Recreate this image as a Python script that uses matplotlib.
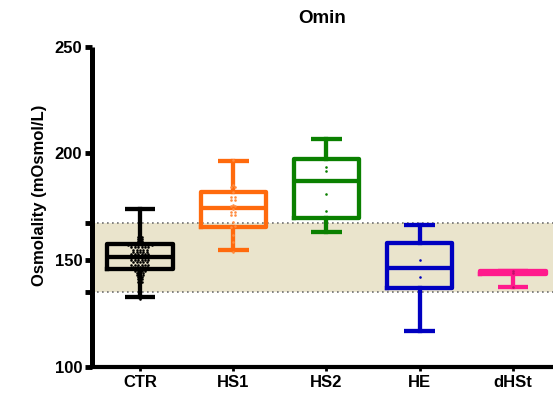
import matplotlib
matplotlib.use("Agg")
import matplotlib.pyplot as plt
import numpy as np

plt.rcParams['font.family'] = ['Liberation Sans', 'DejaVu Sans']

categories = ["CTR", "HS1", "HS2", "HE", "dHSt"]
colors = ["#000000", "#FF6A0D", "#0A8000", "#0000C0", "#FF1A8C"]
dot_colors = ["#000000", "#FF8C40", "#0A8000", "#0000C0", "#C0106A"]

# box statistics: (whislo, q1, median, q3, whishi)
box_lo = [133, 155, 163, 117, 137.5]
box_q1 = [146, 165.7, 170, 137, 143.5]
box_med = [151.5, 174.3, 187, 146.5, 144]
box_q3 = [157.5, 182, 197.5, 158, 144.8]
box_hi = [174, 196.6, 207, 166.5, 145]

# individual points
ctr_pts = [132, 134, 136, 137, 138, 139, 140, 140, 141, 141, 142, 142, 143, 143, 143,
           144, 144, 144, 145, 145, 145, 145, 146, 146, 146, 146, 146, 146, 146, 147,
           147, 147, 147, 147, 148, 148, 148, 148, 148, 148, 149, 149, 149, 149, 149,
           150, 150, 150, 150, 150, 150, 151, 151, 151, 151, 151, 151, 152, 152, 152,
           152, 152, 152, 152, 153, 153, 153, 153, 153, 153, 154, 154, 154, 154, 154,
           155, 155, 155, 155, 155, 156, 156, 156, 156, 156, 156, 157, 157, 157, 157,
           157, 157, 157, 157, 158, 158, 158, 159, 159, 160, 160, 161, 161, 162, 163,
           164, 165, 166, 167, 168, 170, 172, 174]
hs1_pts = [154, 158.7, 162, 165.7, 166, 168, 171.2, 171.2, 172.4, 172.4, 174, 175.4,
           175.4, 176, 178.2, 178.2, 179.8, 179.8, 182, 184.4, 184.4, 185, 197]
hs2_pts = [163, 173.2, 181, 191.8, 193.8, 207]
he_pts = [117, 142.3, 150.1, 166.5]
dhst_pts = [137.5, 144, 145]
points = [ctr_pts, hs1_pts, hs2_pts, he_pts, dhst_pts]

band_lo, band_hi = 135.3, 167.6

W, H = 553, 394
fig = plt.figure(figsize=(W / 100, H / 100), dpi=100)
ax_left, ax_bottom = 92 / W, 1 - 367 / H
ax_w, ax_h = 1 - ax_left, (367 - 46.7) / H
ax = fig.add_axes([ax_left, ax_bottom, ax_w, ax_h])

xmin, xmax = 0.486, 5.43
ymin, ymax = 100, 250
ax.set_xlim(xmin, xmax)
ax.set_ylim(ymin, ymax)

# normal band
ax.axhspan(band_lo, band_hi, color="#EAE4CC", zorder=0, lw=0)
for yv in (band_lo, band_hi):
    ax.axhline(yv, color="#707070", lw=1.2, ls=(0, (1, 2)), zorder=1)

positions = np.arange(1, 6)
LW = 3.1
for i in range(5):
    c = colors[i]
    st = dict(whislo=box_lo[i], q1=box_q1[i], med=box_med[i],
              q3=box_q3[i], whishi=box_hi[i], fliers=[])
    ax.bxp([st], positions=[positions[i]], widths=0.7, capwidths=0.33,
           showfliers=False, patch_artist=False,
           boxprops=dict(color=c, lw=LW),
           whiskerprops=dict(color=c, lw=LW),
           capprops=dict(color=c, lw=LW, solid_capstyle='butt'),
           medianprops=dict(color=c, lw=LW, solid_capstyle='butt'),
           manage_ticks=False, zorder=3)

# row-binned scatter placement (points in the same bin sit side by side)
px_x = ax_w * W / (xmax - xmin)
dx = 3.4  # horizontal spacing in px
for i, pts in enumerate(points):
    vals = sorted(pts)
    bins = {}
    for v in vals:
        bins.setdefault(round(v), []).append(v)
    xs, ys = [], []
    for key, members in bins.items():
        n = len(members)
        for j, v in enumerate(members):
            off = (j - (n - 1) / 2) * dx
            xs.append(positions[i] + off / px_x)
            ys.append(v)
    ax.scatter(xs, ys, s=3.5, color=dot_colors[i], lw=0, zorder=4)

for s in ("top", "right"):
    ax.spines[s].set_visible(False)
ax.spines["left"].set_linewidth(3.6)
ax.spines["bottom"].set_linewidth(3.0)
ax.spines["left"].set_capstyle("butt")

ax.set_yticks([100, 150, 200, 250])
ax.set_yticks([band_lo, band_hi], minor=True)
ax.tick_params(axis="y", which="both", length=5, width=3.5, direction="out",
               labelsize=12, pad=2)
ax.tick_params(axis="y", which="minor", labelleft=False)
for lab in ax.get_yticklabels():
    lab.set_fontweight("bold")

ax.set_xticks(positions)
ax.set_xticklabels(categories, fontweight="bold", fontsize=12)
ax.tick_params(axis="x", length=3, width=2, direction="out", pad=3)

ax.set_ylabel("Osmolality (mOsmol/L)", fontweight="bold", fontsize=12)
ax.yaxis.set_label_coords(-0.098, 0.537)
ax.set_title("Omin", fontweight="bold", fontsize=13.5, pad=17)

fig.savefig("out.png", dpi=100)
